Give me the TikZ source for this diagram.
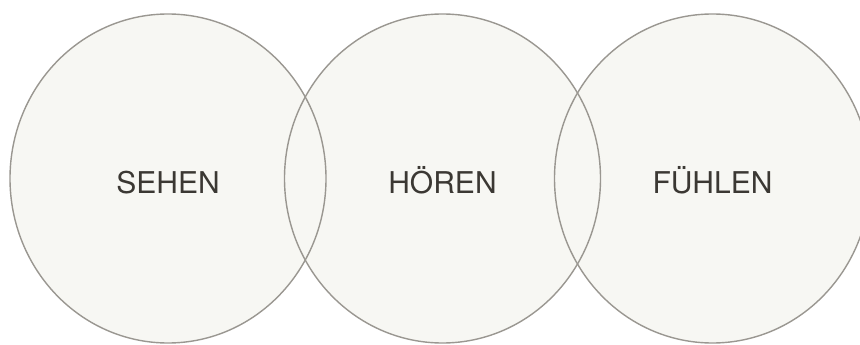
\documentclass[tikz,border=0pt]{standalone}
\usepackage{fontspec}
\setmainfont{TeX Gyre Heros}
\usetikzlibrary{shapes.geometric}
\definecolor{vennfill}{HTML}{F7F7F3}
\definecolor{vennline}{HTML}{9A9791}
\definecolor{venntext}{HTML}{3B3833}
\begin{document}
\begin{tikzpicture}[x=1pt,y=-1pt,
  venn/.style={ellipse, draw=vennline, line width=1.4pt, minimum width=316pt, minimum height=329pt, inner sep=0pt, outer sep=0pt},
  vennbg/.style={ellipse, fill=vennfill, minimum width=316pt, minimum height=329pt, inner sep=0pt, outer sep=0pt},
  label/.style={anchor=base, text=venntext, font=\fontsize{30}{36}\selectfont, inner sep=0pt}]
\useasboundingbox (0,0) rectangle (860,345);
\begin{scope}
\clip (0,0) rectangle (860,345);
\node[vennbg] (bgA) at (168,178.5) {};
\node[vennbg] (bgB) at (442.5,178.5) {};
\node[vennbg] (bgC) at (712.5,178.5) {};
\node[venn] (sehen) at (168,178.5) {};
\node[venn] (hoeren) at (442.5,178.5) {};
\node[venn] (fuehlen) at (712.5,178.5) {};
\end{scope}
\node[label] (tA) at (168,193) {SEHEN};
\node[label] (tB) at (442.5,193) {HÖREN};
\node[label] (tC) at (712.5,193) {FÜHLEN};
\end{tikzpicture}
\end{document}
